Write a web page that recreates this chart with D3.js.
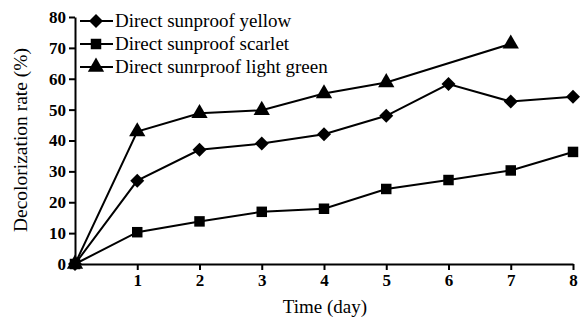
<!DOCTYPE html>
<html lang="en">
<head>
    <script src="https://d3js.org/d3.v7.min.js"></script>
    <style>
        body { margin: 0; background: white; }
        .tick text { font-weight: bold; font-size: 17px; }
        .axis path, .axis line { stroke: black; stroke-width: 2; }
        .line { fill: none; stroke: black; stroke-width: 2; }
    </style>
</head>
<body>
<div id="chart"></div>
<script>
    var days = [0, 1, 2, 3, 4, 5, 6, 7, 8];
    var yellow = [0, 27, 37, 39, 42, 48, 58.3, 52.6, 54.2];
    var scarlet = [0, 10.3, 13.8, 16.9, 17.9, 24.3, 27.2, 30.3, 36.3];
    var lightGreen = [0, 42.9, 48.8, 49.8, 55.2, 58.8, null, 71.3, null];
    var seriesNames = ["Direct sunproof yellow", "Direct sunproof scarlet", "Direct sunrproof light green"];
    var yTicks = [0, 10, 20, 30, 40, 50, 60, 70, 80];
    var xTicks = [1, 2, 3, 4, 5, 6, 7, 8];

    var serif = "Liberation Serif";
    var w = 581, h = 320;
    var svg = d3.select("#chart").append("svg")
        .attr("width", w)
        .attr("height", h);

    var x = d3.scaleLinear().domain([0, 8]).range([75, 573]);
    var y = d3.scaleLinear().domain([0, 80]).range([264, 17]);

    svg.append("g")
        .attr("class", "axis")
        .attr("transform", "translate(0," + y(0) + ")")
        .call(d3.axisBottom(x).tickValues(xTicks).tickSize(6).tickSizeOuter(0).tickPadding(4));

    svg.append("g")
        .attr("class", "axis")
        .attr("transform", "translate(" + x(0) + ",0)")
        .call(d3.axisLeft(y).tickValues(yTicks).tickSize(6).tickSizeOuter(0).tickPadding(3));

    svg.append("text")
        .attr("x", 325)
        .attr("y", 313)
        .attr("text-anchor", "middle")
        .style("font-size", "19px")
        .text("Time (day)");

    svg.append("text")
        .attr("transform", "translate(27,140) rotate(-90)")
        .attr("text-anchor", "middle")
        .style("font-size", "19.5px")
        .text("Decolorization rate (%)");

    // diamond = square turned 45 degrees
    var symbols = [d3.symbolSquare, d3.symbolSquare, d3.symbolTriangle];
    var sizes = [98, 110, 115];
    var turns = [45, 0, 0];
    var allSeries = [yellow, scarlet, lightGreen];

    var line = d3.line()
        .x(d => x(d.day))
        .y(d => y(d.v));

    allSeries.forEach(function(vals, i) {
        var pts = days.map((d, j) => ({ day: d, v: vals[j] })).filter(d => d.v !== null);
        svg.append("path")
            .datum(pts)
            .attr("class", "line")
            .attr("d", line);

        svg.selectAll(".pt" + i)
            .data(pts)
            .enter()
            .append("path")
            .attr("class", "pt" + i)
            .attr("transform", d => "translate(" + x(d.day) + "," + y(d.v) + ") rotate(" + turns[i] + ")")
            .attr("d", d3.symbol().type(symbols[i]).size(sizes[i]));
    });

    var legend = svg.append("g");
    seriesNames.forEach(function(name, i) {
        var row = legend.append("g")
            .attr("transform", "translate(80," + (21 + i * 23) + ")");
        row.append("line")
            .attr("x1", 0).attr("x2", 33)
            .attr("stroke", "black").attr("stroke-width", 2);
        row.append("path")
            .attr("transform", "translate(16,0) rotate(" + turns[i] + ")")
            .attr("d", d3.symbol().type(symbols[i]).size(sizes[i]));
        row.append("text")
            .attr("x", 35)
            .attr("y", 6)
            .style("font-size", "19px")
            .text(name);
    });

    svg.selectAll("text")
        .attr("font-family", serif)
        .style("font-family", serif)
        .attr("fill", "black");
</script>
</body>
</html>
